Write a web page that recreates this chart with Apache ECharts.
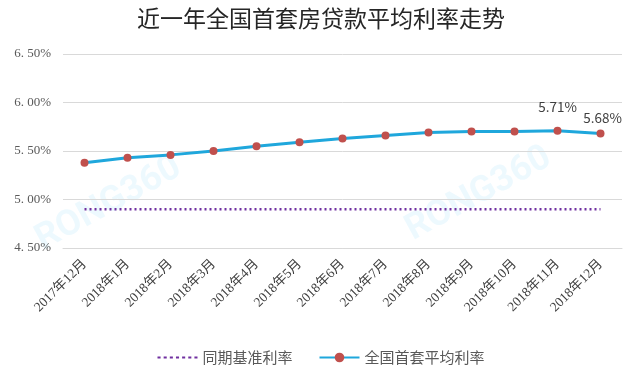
<!DOCTYPE html>
<html>
<head>
<meta charset="utf-8">
<script src="https://cdn.jsdelivr.net/npm/echarts@6/dist/echarts.min.js"></script>
<style>
    html, body { margin: 0; padding: 0; background: #fff; }
    #chart { width: 642px; height: 377px; }
</style>
</head>
<body>
<div id="chart"></div>
<script>
// months on the x axis
const months = ['2017年12月', '2018年1月', '2018年2月', '2018年3月', '2018年4月', '2018年5月', '2018年6月',
    '2018年7月', '2018年8月', '2018年9月', '2018年10月', '2018年11月', '2018年12月'];
// 同期基准利率 (%)
const baseRate = [4.90, 4.90, 4.90, 4.90, 4.90, 4.90, 4.90, 4.90, 4.90, 4.90, 4.90, 4.90, 4.90];
// 全国首套平均利率 (%)
const avgRate = [5.38, 5.43, 5.46, 5.50, 5.55, 5.59, 5.63, 5.66, 5.69, 5.70, 5.70, 5.71, 5.68];
// only these points carry a value label
const labelled = [11, 12];
const yTicks = [4.5, 5.0, 5.5, 6.0, 6.5];

const serif = '"Liberation Serif", "Noto Sans CJK SC", serif';
const sans = '"Noto Sans CJK SC", "Noto Sans", sans-serif';

const chart = echarts.init(document.getElementById('chart'));

const option = {
    backgroundColor: '#fff',
    animation: false,
    title: {
        text: '近一年全国首套房贷款平均利率走势',
        left: 'center',
        top: 2,
        textStyle: { fontFamily: sans, fontSize: 23, fontWeight: 'normal', color: '#262626' }
    },
    graphic: [
        { type: 'text', left: 30, top: 150, rotation: 0.5,
          style: { text: 'RONG360', fill: 'rgba(0,170,235,0.07)', font: 'bold 36px Roboto' } },
        { type: 'text', left: 400, top: 140, rotation: 0.5,
          style: { text: 'RONG360', fill: 'rgba(0,170,235,0.07)', font: 'bold 36px Roboto' } }
    ],
    grid: { left: 63, right: 20, top: 54, bottom: 129 },
    legend: {
        bottom: 7,
        left: 'center',
        itemGap: 26,
        itemWidth: 40,
        itemHeight: 12,
        textStyle: { fontFamily: sans, fontSize: 15, color: '#595959' },
        data: [
            { name: '同期基准利率', icon: 'path://M0,4h3v2h-3z M6,4h3v2h-3z M12,4h3v2h-3z M18,4h3v2h-3z M24,4h3v2h-3z M30,4h3v2h-3z M36,4h3v2h-3z', itemStyle: { color: '#7030a0' } },
            { name: '全国首套平均利率' }
        ]
    },
    xAxis: {
        type: 'category',
        data: months,
        boundaryGap: true,
        axisLine: { show: true, lineStyle: { color: '#d9d9d9' } },
        axisTick: { show: false },
        axisLabel: {
            interval: 0,
            rotate: 45,
            margin: 14,
            fontFamily: serif,
            fontSize: 13.5,
            color: '#404040'
        }
    },
    yAxis: {
        type: 'value',
        min: yTicks[0],
        max: yTicks[yTicks.length - 1],
        interval: 0.5,
        axisLine: { show: false },
        axisTick: { show: false },
        splitLine: { lineStyle: { color: '#d9d9d9', width: 1 } },
        axisLabel: {
            margin: 12,
            fontFamily: serif,
            fontSize: 13,
            color: '#595959',
            formatter: v => v.toFixed(2).replace('.', '. ') + '%'
        }
    },
    series: [
        {
            name: '同期基准利率',
            type: 'line',
            data: baseRate,
            symbol: 'none',
            lineStyle: { color: '#7030a0', width: 2.5, type: [2, 3] },
            itemStyle: { color: '#7030a0' }
        },
        {
            name: '全国首套平均利率',
            type: 'line',
            data: avgRate.map((v, i) => ({
                value: v,
                label: labelled.includes(i) ? {
                    show: true,
                    position: 'top',
                    distance: i === 11 ? 13 : 5,
                    offset: i === 12 ? [2, 0] : [0, 0],
                    formatter: p => p.value.toFixed(2) + '%',
                    fontFamily: sans,
                    fontSize: 13.5,
                    color: '#404040'
                } : { show: false }
            })),
            symbol: 'circle',
            symbolSize: 8,
            lineStyle: { color: '#1fa7dc', width: 3 },
            itemStyle: { color: '#c0504d', borderWidth: 0 },
            z: 3
        }
    ]
};

chart.setOption(option);
</script>
</body>
</html>
